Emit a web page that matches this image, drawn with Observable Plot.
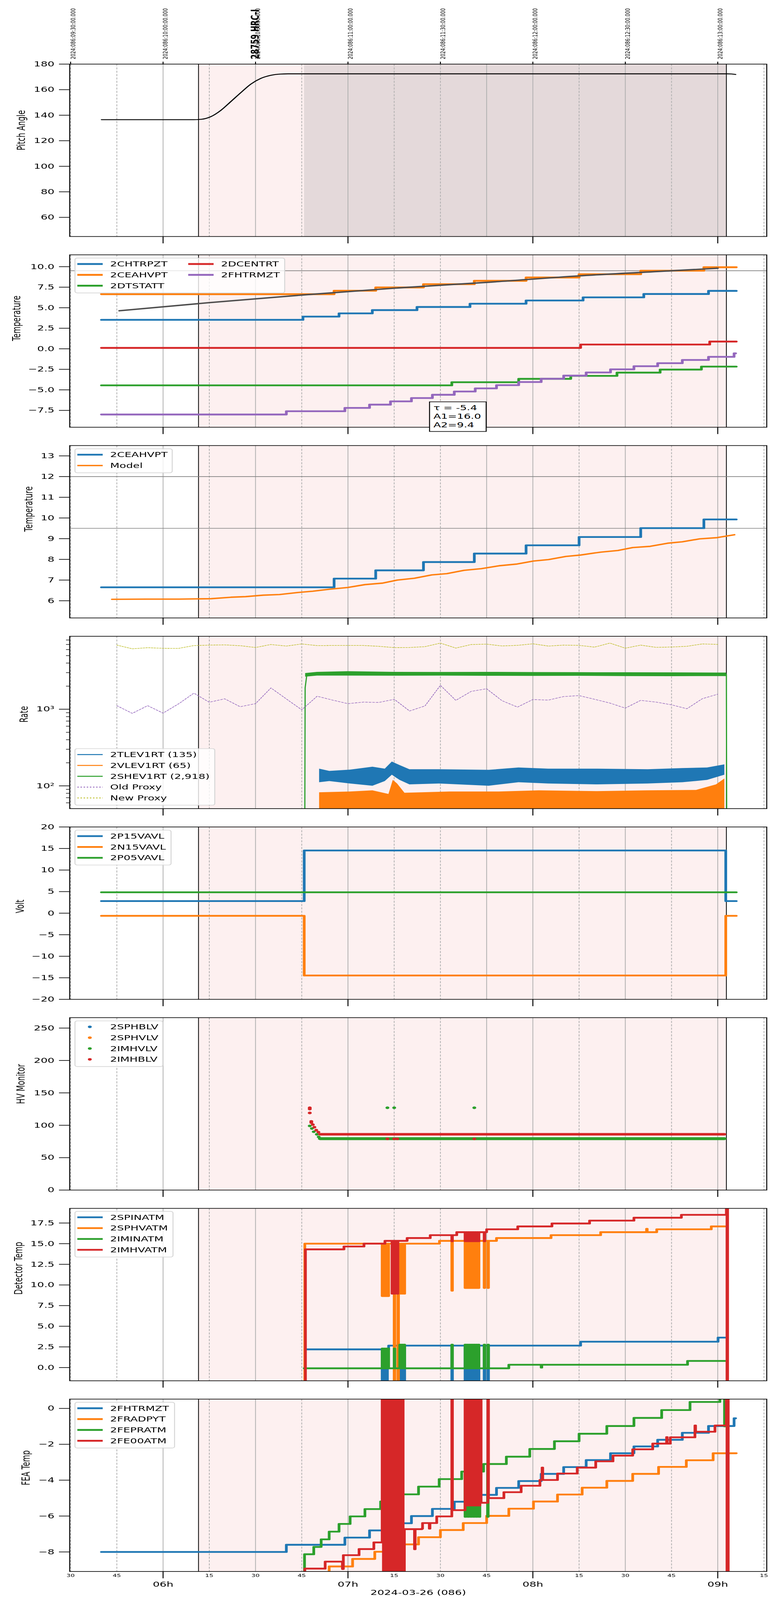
<!DOCTYPE html>
<html>
<head>
<meta charset="utf-8">
<script src="https://cdn.jsdelivr.net/npm/d3@7"></script>
<script src="https://cdn.jsdelivr.net/npm/@observablehq/plot@0.6"></script>
<style>
  html, body { margin: 0; padding: 0; background: #fff; overflow: hidden; }
  #frame { position: relative; width: 2000px; overflow: hidden; }
  #chart { position: absolute; left: 0; top: 0; width: 2000px; height: 6200px; font-family: "DejaVu Sans", sans-serif; transform-origin: 0 0; }
  #chart svg { position: absolute; left: 0; overflow: visible; }
</style>
</head>
<body>
<div id="frame"><div id="chart"></div></div>
<script>
// times are local clock on 2024-03-26, kept as UTC dates so the browser zone does not matter
const t = s => { const [h, m, sec] = s.split(":").map(Number); return new Date(Date.UTC(2024, 2, 26, h, m, sec || 0)); };
const series = (T, V) => T.map((s, i) => ({t: t(s), v: V[i]}));

// ---- shared time marks
const obsStart = "06:11:30", obsEnd = "09:02:48", slewEnd = "06:45:48";
const gridSolid = ["06:00", "06:30", "07:00", "07:45", "08:00", "08:30", "09:00"];
const gridDash = ["05:30", "05:45", "06:15", "06:45", "07:15", "07:30", "08:15", "08:45", "09:15"];
const hourTicks = ["06:00", "07:00", "08:00", "09:00"];
const quarterTicks = ["05:30", "05:45", "06:15", "06:30", "06:45", "07:15", "07:30", "07:45", "08:15", "08:30", "08:45", "09:15"];
const utcLabelTimes = ["05:30", "06:00", "06:30", "07:00", "07:30", "08:00", "08:30", "09:00"];
const utcLabels = ["2024:086:09:30:00.000", "2024:086:10:00:00.000", "2024:086:10:30:00.000", "2024:086:11:00:00.000",
  "2024:086:11:30:00.000", "2024:086:12:00:00.000", "2024:086:12:30:00.000", "2024:086:13:00:00.000"];
const title = "28759 HRC-I", titleTime = "06:28:36";
const xTitle = "2024-03-26 (086)";

// ---- panel 1: pitch
const pitchT = ["05:40", "06:10", "06:12:24", "06:15:36", "06:18:48", "06:22", "06:25:12", "06:28:30", "06:31:42", "06:34:54", "06:38:06", "06:40:30", "09:03", "09:04:30", "09:05:48"];
const pitchV = [136.5, 136.5, 136.8, 139.0, 143.9, 150.7, 157.6, 164.4, 168.8, 171.2, 172.2, 172.4, 172.4, 172.3, 171.9];

// ---- panel 2: temperatures
const names2 = ["2CHTRPZT", "2CEAHVPT", "2DTSTATT", "2DCENTRT", "2FHTRMZT"];
const chtrpztT = ["05:40", "06:45:24", "06:57:06", "07:07:54", "07:22:24", "07:39:36", "07:57:48", "08:16:18", "08:36", "08:57", "09:06"];
const chtrpztV = [3.53, 3.92, 4.31, 4.71, 5.09, 5.49, 5.88, 6.26, 6.67, 7.05, 7.05];
const ceahvptT = ["05:40", "06:55:30", "07:09", "07:24:30", "07:41", "07:57:48", "08:15", "08:35", "08:55:30", "09:06"];
const ceahvptV = [6.65, 7.07, 7.47, 7.87, 8.28, 8.68, 9.08, 9.51, 9.93, 9.93];
const dtstattT = ["05:40", "07:33:42", "07:55:24", "08:12:18", "08:27:18", "08:41:18", "08:54:42", "09:06"];
const dtstattV = [-4.45, -4.07, -3.66, -3.3, -2.9, -2.53, -2.17, -2.17];
const dcentrtT = ["05:40", "08:15:30", "08:57:24", "09:06"];
const dcentrtV = [0.11, 0.52, 0.88, 0.88];
const fhtrmztT = ["05:40", "06:40", "06:59", "07:07", "07:13:48", "07:20:36", "07:27:24", "07:34:30", "07:41:18", "07:48:12", "07:55:24",
  "08:02:42", "08:10", "08:17:18", "08:25:12", "08:32:48", "08:40:30", "08:48:30", "08:57", "09:05:18", "09:05:48"];
const fhtrmztV = [-8.0, -7.6, -7.2, -6.8, -6.4, -6.0, -5.6, -5.2, -4.82, -4.43, -4.05, -3.65, -3.27, -2.88, -2.5, -2.12, -1.75, -1.36, -0.98, -0.55, -0.55];
const fitT = ["05:45:48", "06:15", "06:45", "07:15", "07:45", "08:15", "08:45", "09:00"];
const fitV = [4.63, 5.62, 6.54, 7.38, 8.09, 8.88, 9.5, 9.81];
const limits2 = [9.5];
const fitText = ["τ = -5.4", "A1=16.0", "A2=9.4"];

// ---- panel 3: model
const modelT = ["05:43:24", "05:54:36", "06:05:06", "06:15:36", "06:22", "06:26:48", "06:32:30", "06:37:48", "06:43:48", "06:48:36", "06:54:12",
  "06:59:54", "07:05:30", "07:11:06", "07:16", "07:21:36", "07:27:12", "07:32:06", "07:37:42", "07:43:18", "07:49", "07:54:36",
  "08:00:12", "08:05:06", "08:10:42", "08:15:30", "08:22", "08:27:36", "08:32:24", "08:38:06", "08:43:42", "08:48:30", "08:54:06", "08:59:48", "09:05:24"];
const modelV = [6.07, 6.08, 6.08, 6.10, 6.17, 6.20, 6.27, 6.30, 6.40, 6.46, 6.56, 6.64, 6.78, 6.85, 7.00, 7.09, 7.25, 7.31, 7.47, 7.55, 7.69, 7.77,
  7.92, 7.99, 8.14, 8.21, 8.35, 8.43, 8.57, 8.63, 8.78, 8.85, 8.99, 9.05, 9.19];
const limits3 = [12, 9.5];

// ---- panel 4: rates
const names4 = ["2TLEV1RT (135)", "2VLEV1RT (65)", "2SHEV1RT (2,918)", "Old Proxy", "New Proxy"];
const tlevT = ["06:50:42", "06:54", "07:00:42", "07:08", "07:12", "07:14:18", "07:16:48", "07:20", "07:29:36", "07:45:42", "07:55:24", "08:05", "08:21", "08:37:18", "08:48:36", "08:56:36", "09:02:12"];
const tlevLo = [111, 115, 107, 100, 115, 139, 119, 104, 107, 100, 111, 107, 104, 107, 111, 119, 139];
const tlevHi = [167, 156, 162, 177, 167, 207, 186, 164, 164, 161, 173, 167, 167, 164, 170, 173, 190];
const vlevT = ["06:50:42", "07:00:42", "07:08", "07:13:12", "07:14:36", "07:16", "07:18:24", "07:33", "07:49", "08:02", "08:21", "08:37", "08:53", "08:59:30", "09:02:12"];
const vlevHi = [82, 84, 87, 78, 119, 107, 81, 84, 84, 87, 85, 87, 88, 104, 124];
const rateFloor = 40;
const shevT = ["06:46:10", "06:50", "07:00", "07:15", "07:30", "07:45", "08:00", "08:15", "08:30", "08:45", "09:00", "09:02:48"];
const shevLo = [2650, 2740, 2740, 2730, 2740, 2720, 2710, 2720, 2700, 2690, 2700, 2700];
const shevHi = [2950, 3060, 3120, 3060, 3050, 3060, 3040, 3030, 3020, 3010, 3000, 3000];
const shevEdgeT = ["06:46:00", "06:46:06", "06:46:40", "09:02:48", "09:02:54"];
const shevEdgeV = [40, 1900, 2850, 2850, 40];
const proxyT = ["05:45", "05:50", "05:55", "06:00", "06:05", "06:10", "06:15", "06:20", "06:25", "06:30", "06:35", "06:40", "06:45", "06:50",
  "06:55", "07:00", "07:05", "07:10", "07:15", "07:20", "07:25", "07:30", "07:35", "07:40", "07:45", "07:50", "07:55", "08:00",
  "08:05", "08:10", "08:15", "08:20", "08:25", "08:30", "08:35", "08:40", "08:45", "08:50", "08:55", "09:00"];
const oldProxyV = [1112, 883, 1112, 889, 1173, 1621, 1233, 1367, 1078, 1182, 1896, 1362, 982, 1478, 1315, 1182, 1238, 1225, 1348, 948,
  1105, 2050, 1305, 1710, 1849, 1291, 1066, 1338, 1315, 1463, 1505, 1348, 1203, 1033, 1305, 1238, 1141, 1014, 1372, 1570];
const newProxyV = [6862, 6146, 6346, 6235, 6212, 6765, 6862, 6911, 6741, 6392, 6985, 6670, 7111, 6765, 6789, 6789, 6789, 6622, 6368, 6392,
  6552, 7290, 6279, 6985, 7060, 6694, 6813, 7137, 6670, 6862, 6813, 6460, 7290, 6257, 6862, 6415, 6483, 6622, 7111, 7010];

// ---- panel 5: voltages
const names5 = ["2P15VAVL", "2N15VAVL", "2P05VAVL"];
const p15T = ["05:40", "06:45:48", "09:02:36", "09:06"], p15V = [2.81, 14.54, 2.81, 2.81];
const n15T = ["05:40", "06:45:48", "09:02:36", "09:06"], n15V = [-0.62, -14.46, -0.62, -0.62];
const p05T = ["05:40", "09:06"], p05V = [4.84, 4.84];

// ---- panel 6: HV monitor
const names6 = ["2SPHBLV", "2SPHVLV", "2IMHVLV", "2IMHBLV"];
const imhblvT = ["06:47:36", "06:47:36", "06:47:36", "06:48:06", "06:48:06", "06:48:36", "06:49:06", "06:49:42", "06:50:24", "07:12:48", "07:15:00", "07:16:00", "07:41:00"];
const imhblvV = [127, 125, 119, 106, 104, 101, 97, 92.5, 89.4, 79, 79, 79, 79];
const imhvlvT = ["06:47:36", "06:48:18", "06:48:54", "06:49:54", "06:50:30", "07:12:48", "07:15:00", "07:41:00"];
const imhvlvV = [99, 95, 90, 86, 82, 127, 127, 127];
const hvSteadyT = ["06:51:00", "09:02:12"];
const imhblvSteady = 86.1, imhvlvSteady = 79.3;

// ---- panel 7: detector temps
const names7 = ["2SPINATM", "2SPHVATM", "2IMINATM", "2IMHVATM"];
const burstT = ["07:38:00", "07:38:18", "07:38:36", "07:38:54", "07:39:12", "07:39:30", "07:39:48", "07:40:06",
  "07:40:24", "07:40:42", "07:41:00", "07:41:18", "07:41:36", "07:41:54", "07:42:12", "07:42:30"];
const spinatmT = ["06:46:12", "07:11:06", "07:11:24", "07:11:48", "07:12:06", "07:12:30", "07:12:48", "07:13:12", "07:16:48", "07:17:06",
  "07:17:30", "07:17:48", "07:18:06", "07:18:24", "07:33:42", "07:33:54", ...burstT, "07:44:12", "07:44:24", "07:45:24", "07:45:36",
  "08:15:30", "09:00:06", "09:02:24"];
const spinatmV = [2.2, -3, 2.2, -3, 2.2, -3, 2.2, 2.66, -3, 2.66, -3, 2.66, -3, 2.66, -3, 2.66,
  -3, 2.66, -3, 2.66, -3, 2.66, -3, 2.66, -3, 2.66, -3, 2.66, -3, 2.66, -3, 2.66,
  -3, 2.66, -3, 2.66, 3.13, 3.63, 3.63];
const sphvatmT = ["06:45:48", "06:46:00", "07:11:06", "07:11:24", "07:11:42", "07:12:00", "07:12:18", "07:12:36", "07:12:54", "07:13:12",
  "07:15:00", "07:15:12", "07:16:12", "07:16:24", "07:16:48", "07:17:06", "07:17:30", "07:17:48", "07:18:06", "07:18:24",
  "07:29:42", "07:33:42", "07:33:54", ...burstT, "07:44:12", "07:44:24", "07:45:24", "07:45:36",
  "07:48:12", "08:05:54", "08:22:00", "08:36:54", "08:37:06", "08:40:12", "08:57:54", "09:02:24"];
const sphvatmV = [-3, 15.0, 8.66, 15.0, 8.66, 15.0, 8.66, 15.0, 8.66, 15.0,
  -3, 15.0, -3, 15.0, 8.95, 15.0, 8.95, 15.0, 8.95, 15.0,
  15.34, 9.31, 15.34,
  9.64, 15.34, 9.64, 15.34, 9.64, 15.34, 9.64, 15.34, 9.64, 15.34, 9.64, 15.34, 9.64, 15.34, 9.64, 15.34,
  9.64, 15.34, 9.64, 15.34,
  15.68, 16.03, 16.39, 16.8, 16.39, 16.74, 17.09, 17.09];
const iminatmT = ["06:45:48", "07:11:06", "07:11:24", "07:11:42", "07:12:00", "07:12:18", "07:12:36", "07:12:54", "07:13:12",
  "07:15:00", "07:15:12", "07:16:48", "07:17:06", "07:17:30", "07:17:48", "07:18:06", "07:18:24", "07:33:42", "07:33:54",
  ...burstT, "07:44:12", "07:44:24", "07:45:24", "07:45:36", "07:52:12", "08:02:42", "08:02:54", "08:50:12", "09:02:24"];
const iminatmV = [-0.09, 2.3, -0.09, 2.3, -0.09, 2.3, -0.09, 2.3, -0.09,
  2.3, -0.09, 2.77, -0.09, 2.77, -0.09, 2.77, -0.09, 2.77, -0.09,
  2.77, -0.09, 2.77, -0.09, 2.77, -0.09, 2.77, -0.09, 2.77, -0.09, 2.77, -0.09, 2.77, -0.09, 2.77, -0.09,
  2.77, -0.09, 2.77, -0.09, 0.34, 0.0, 0.34, 0.8, 0.8];
const imhvatmT = ["06:46:06", "06:46:12", "06:58:42", "07:05:12", "07:12:00", "07:14:18", "07:14:30", "07:15:06", "07:15:18", "07:16:00", "07:16:12",
  "07:19:12", "07:26:42", "07:33:42", "07:33:54", "07:35:18", ...burstT, "07:44:12", "07:44:24", "07:45:00", "07:55:06", "08:06:12",
  "08:18:24", "08:32:48", "08:48:12", "09:02:48", "09:03:00", "09:03:06", "09:03:12"];
const imhvatmV = [-3, 14.31, 14.66, 15.0, 15.34, 8.95, 15.34, 8.95, 15.34, 8.95, 15.34,
  15.68, 16.03, 15.3, 16.03, 16.39,
  15.3, 16.39, 15.3, 16.39, 15.3, 16.39, 15.3, 16.39, 15.3, 16.39, 15.3, 16.39, 15.3, 16.39, 15.3, 16.39,
  15.3, 16.39, 16.74, 17.09, 17.44, 17.79, 18.14, 18.49, 40, -5, 40, -5];

// ---- panel 8: FEA temps (first series is 2FHTRMZT from panel 2)
const names8 = ["2FHTRMZT", "2FRADPYT", "2FEPRATM", "2FE00ATM"];
const fradpytT = ["06:53:30", "06:53:54", "07:01:30", "07:08:42", "07:15:12", "07:22:54", "07:30:00", "07:37:24", "07:45:00", "07:52:12",
  "08:00:12", "08:08:00", "08:16:00", "08:24:00", "08:32:24", "08:40:48", "08:49:48", "08:58:30", "09:06"];
const fradpytV = [-9.5, -8.81, -8.39, -7.99, -7.58, -7.18, -6.78, -6.39, -5.99, -5.59, -5.19, -4.8, -4.42, -4.04, -3.65, -3.26, -2.89, -2.5, -2.5];
const fepratmT = ["06:45:48", "06:45:54", "06:48:54", "06:51:18", "06:53:54", "06:57:06", "07:00:42", "07:05:30", "07:10:36", "07:16:48",
  "07:22:54", "07:29:36", "07:36:54", "07:38:00", "07:38:18", "07:38:54", "07:39:12", "07:39:48", "07:40:06", "07:40:42", "07:41:00",
  "07:41:36", "07:41:54", "07:42:30", "07:42:48", "07:44:00", "07:45:18", "07:45:30", "07:51:24", "07:59:00", "08:07:00", "08:15:00",
  "08:24:00", "08:32:48", "08:41:48", "08:51:00", "09:00:42", "09:02:12", "09:02:24"];
const fepratmV = [-9.5, -8.13, -7.72, -7.3, -6.87, -6.44, -6.02, -5.61, -5.19, -4.79, -4.36, -3.94, -3.52, -6.04, -3.52, -6.04, -3.52,
  -6.04, -3.52, -6.04, -3.52, -6.04, -3.52, -6.04, -3.52, -3.1, -6.04, -3.1, -2.69, -2.26, -1.83, -1.41, -0.98, -0.53, -0.09, 0.36, 0.7, -1.0, -1.0];
const fe00atmT = ["06:45:48", "06:46:00", "06:52:36", "06:58:12", "06:58:30", "07:03:36", "07:08:24",
  "07:11:06", "07:11:30", "07:11:54", "07:12:18", "07:12:42", "07:13:06", "07:13:30", "07:13:54", "07:14:18", "07:14:42", "07:15:06",
  "07:15:30", "07:15:54", "07:16:18", "07:16:42", "07:17:06", "07:17:30", "07:17:54",
  "07:18:18", "07:21:36", "07:21:48", "07:24:00", "07:24:12", "07:26:24", "07:26:36", "07:28:48", "07:33:42", "07:33:54",
  "07:38:00", "07:38:24", "07:38:48", "07:39:12", "07:39:36", "07:40:00", "07:40:24", "07:40:48", "07:41:12", "07:41:36", "07:42:00",
  "07:42:24", "07:42:48", "07:43:12",
  "07:45:24", "07:45:36", "07:50:36", "07:56:12", "08:02:18", "08:03:00", "08:03:12", "08:08:00", "08:14:24", "08:20:24", "08:26:00",
  "08:32:24", "08:38:54", "08:43:24", "08:43:36", "08:44:36", "08:52:36", "08:52:48", "08:59:06", "09:02:48", "09:03:00", "09:03:12", "09:03:24"];
const fe00atmV = [-9.5, -8.93, -8.54, -8.95, -8.18, -7.84, -7.47,
  2, -12, 2, -12, 2, -12, 2, -12, 2, -12, 2, -12, 2, -12, 2, -12, 2, -12,
  -6.73, -7.85, -6.73, -6.7, -6.39, -6.7, -6.39, -6.02, 2, -5.67,
  2, -5.41, 2, -5.41, 2, -5.41, 2, -5.41, 2, -5.41, 2, -5.41, 2, -5.26,
  2, -5.0, -4.67, -4.31, -3.99, -3.3, -3.99, -3.63, -3.3, -2.95, -2.63, -2.28, -1.96, -1.6, -1.96, -1.61, -0.95, -1.3, -0.95, 3, -12, 3, -12];

// ---- layout
const W = 2000, H = 6200, ML = 178, MR = 37, PH = 668, FS = 27.8;
const panelTops = [248, 987, 1726, 2465, 3204, 3943, 4682, 5421];
const xDomain = [t("05:29:42"), t("09:15:54")];
const C = {blue: "#1f77b4", orange: "#ff7f0e", green: "#2ca02c", red: "#d62728", purple: "#9467bd", olive: "#bcbd22"};
const chart = document.getElementById("chart");
const shade = [{a: t(obsStart), b: t(obsEnd)}];

// the window is shorter than the 6200 px figure: squeeze the whole figure vertically so all of it shows
const fit = Math.min(1, window.innerHeight / H);
chart.style.transform = `scale(1, ${fit})`;
document.getElementById("frame").style.height = (H * fit) + "px";

const step = (T, V, stroke, w = 7) => Plot.line(series(T, V), {x: "t", y: "v", stroke, strokeWidth: w, curve: "step-after", clip: true});

function addLegend(svg, mt, L) {
  const g = d3.select(svg).append("g")
    .attr("transform", `translate(${L.x},${mt + L.y})`)
    .attr("font-family", "DejaVu Sans").attr("font-size", FS).attr("text-anchor", "start");
  const rows = d3.max(L.items, d => d.row) + 1;
  g.append("rect").attr("width", L.w).attr("height", 9 + 42 * rows).attr("rx", 6)
    .attr("fill", "white").attr("fill-opacity", 0.8).attr("stroke", "#d5d5d5").attr("stroke-width", 2.5);
  L.items.forEach(d => {
    const ox = d.col ? 284 : 0, cy = 23 + 42 * d.row;
    if (d.dot) {
      g.append("circle").attr("cx", 38 + ox).attr("cy", cy).attr("r", 5).attr("fill", d.color);
    } else {
      g.append("line").attr("x1", 6 + ox).attr("x2", 71 + ox).attr("y1", cy).attr("y2", cy)
        .attr("stroke", d.color).attr("stroke-width", d.w || 7).attr("stroke-dasharray", d.dash || null);
    }
    g.append("text").attr("x", 90 + ox).attr("y", cy).attr("dy", "0.35em").attr("text-anchor", "start").text(d.label);
  });
}

function makePanel(k, cfg) {
  const mt = cfg.mt ?? 30, mb = cfg.mb ?? 41;
  const marks = [
    Plot.rect(shade, {x1: "a", x2: "b", fill: "#fdf0f0"}),
    ...(cfg.background || []),
    Plot.ruleX(gridSolid.map(t), {stroke: "#b0b0b0", strokeWidth: 2}),
    Plot.ruleX(gridDash.map(t), {stroke: "#b0b0b0", strokeWidth: 2, strokeDasharray: "8,5"}),
    Plot.ruleX([obsStart, obsEnd].map(t), {stroke: "black", strokeWidth: 2}),
    ...cfg.marks,
    Plot.axisY({ticks: cfg.yTicks, tickFormat: cfg.yFormat, tickSize: 27, tickPadding: 12, fontSize: FS, strokeWidth: 2.5, label: null}),
    ...(cfg.xAxes || [Plot.axisX({ticks: hourTicks.map(t), tickSize: 27, tickFormat: () => "", strokeWidth: 2.5, label: null})]),
    Plot.text([cfg.ylabel], {text: d => d, frameAnchor: "left", dx: cfg.labelX - ML, rotate: -90, fontSize: FS}),
    Plot.frame({stroke: "black", strokeWidth: 2.5})
  ];
  const svg = Plot.plot({
    width: W, height: PH + mt + mb,
    marginLeft: ML, marginRight: MR, marginTop: mt, marginBottom: mb,
    style: {background: "transparent", fontFamily: "DejaVu Sans", overflow: "visible"},
    x: {type: "utc", domain: xDomain},
    y: cfg.y,
    marks
  });
  svg.style.top = (panelTops[k] - mt) + "px";
  chart.appendChild(svg);
  if (cfg.legend) addLegend(svg, mt, cfg.legend);
  if (cfg.after) cfg.after(svg, mt);
  return svg;
}

const f1 = d3.format(".1f"), fd = d3.format("d");

// panel 1
makePanel(0, {
  mt: 248,
  y: {domain: [45, 180]},
  yTicks: [60, 80, 100, 120, 140, 160, 180], yFormat: fd,
  ylabel: "Pitch Angle", labelX: 55,
  background: [Plot.rect([{a: t(slewEnd), b: t(obsEnd)}], {x1: "a", x2: "b", fill: "#e4d9da"})],
  marks: [
    Plot.line(series(pitchT, pitchV), {x: "t", y: "v", stroke: "black", strokeWidth: 3.5, curve: "monotone-x"}),
    Plot.axisX({anchor: "top", ticks: utcLabelTimes.map(t), tickSize: 10, tickFormat: () => "", strokeWidth: 2.5, label: null}),
    Plot.text(utcLabels, {x: (d, i) => t(utcLabelTimes[i]), text: d => d, frameAnchor: "top", dy: -19, rotate: -90, textAnchor: "start", fontSize: 16.7}),
    Plot.text([title], {x: () => t(titleTime), text: d => d, frameAnchor: "top", dy: -19, rotate: -90, textAnchor: "start", fontSize: FS, fontWeight: "bold"})
  ]
});

// panel 2
makePanel(1, {
  y: {domain: [-9.55, 11.44]},
  yTicks: [-7.5, -5, -2.5, 0, 2.5, 5, 7.5, 10], yFormat: f1,
  ylabel: "Temperature", labelX: 43,
  marks: [
    Plot.ruleY(limits2, {stroke: "#808080", strokeWidth: 2.5}),
    step(chtrpztT, chtrpztV, C.blue),
    step(ceahvptT, ceahvptV, C.orange),
    step(dtstattT, dtstattV, C.green),
    step(dcentrtT, dcentrtV, C.red),
    step(fhtrmztT, fhtrmztV, C.purple),
    Plot.line(series(fitT, fitV), {x: "t", y: "v", stroke: "#4d4d4d", strokeWidth: 5.5, curve: "monotone-x"})
  ],
  legend: {x: 192, y: 13, w: 537, items: [
    {label: names2[0], color: C.blue, row: 0, col: 0},
    {label: names2[1], color: C.orange, row: 1, col: 0},
    {label: names2[2], color: C.green, row: 2, col: 0},
    {label: names2[3], color: C.red, row: 0, col: 1},
    {label: names2[4], color: C.purple, row: 1, col: 1}
  ]},
  after: (svg, mt) => {
    const g = d3.select(svg).append("g").attr("transform", `translate(1100,${mt + 570})`)
      .attr("font-family", "DejaVu Sans").attr("font-size", FS).attr("text-anchor", "start");
    g.append("rect").attr("width", 145).attr("height", 115).attr("fill", "white").attr("stroke", "black").attr("stroke-width", 2.5);
    fitText.forEach((s, i) => g.append("text").attr("x", 10).attr("y", 23 + 33 * i).attr("dy", "0.35em").attr("text-anchor", "start").text(s));
  }
});

// panel 3
makePanel(2, {
  y: {domain: [5.17, 13.5]},
  yTicks: [6, 7, 8, 9, 10, 11, 12, 13], yFormat: fd,
  ylabel: "Temperature", labelX: 74,
  marks: [
    Plot.ruleY(limits3, {stroke: "#808080", strokeWidth: 2.5}),
    step(ceahvptT, ceahvptV, C.blue),
    Plot.line(series(modelT, modelV), {x: "t", y: "v", stroke: C.orange, strokeWidth: 5.5})
  ],
  legend: {x: 192, y: 13, w: 249, items: [
    {label: names2[1], color: C.blue, row: 0},
    {label: "Model", color: C.orange, row: 1, w: 5.5}
  ]}
});

// panel 4
const tlev = tlevT.map((s, i) => ({t: t(s), lo: tlevLo[i], hi: tlevHi[i]}));
const vlev = vlevT.map((s, i) => ({t: t(s), lo: rateFloor, hi: vlevHi[i]}));
const shev = shevT.map((s, i) => ({t: t(s), lo: shevLo[i], hi: shevHi[i]}));
makePanel(3, {
  y: {type: "log", domain: [50.4, 8954]},
  yTicks: [100, 1000], yFormat: d => d === 100 ? "10²" : "10³",
  ylabel: "Rate", labelX: 62,
  marks: [
    Plot.areaY(tlev, {x: "t", y1: "lo", y2: "hi", fill: C.blue, clip: true}),
    Plot.areaY(vlev, {x: "t", y1: "lo", y2: "hi", fill: C.orange, clip: true}),
    Plot.areaY(shev, {x: "t", y1: "lo", y2: "hi", fill: C.green, clip: true}),
    Plot.line(series(shevEdgeT, shevEdgeV), {x: "t", y: "v", stroke: C.green, strokeWidth: 3, clip: true}),
    Plot.line(series(proxyT, oldProxyV), {x: "t", y: "v", stroke: C.purple, strokeWidth: 2, strokeDasharray: "5,4"}),
    Plot.line(series(proxyT, newProxyV), {x: "t", y: "v", stroke: C.olive, strokeWidth: 2, strokeDasharray: "4,3"}),
    Plot.axisY({ticks: [60, 70, 80, 90, 200, 300, 400, 500, 600, 700, 800, 900, 2000, 3000, 4000, 5000, 6000, 7000, 8000],
      tickSize: 9, tickFormat: () => "", strokeWidth: 2, label: null})
  ],
  legend: {x: 192, y: 436, w: 358, items: [
    {label: names4[0], color: C.blue, row: 0, w: 4},
    {label: names4[1], color: C.orange, row: 1, w: 4},
    {label: names4[2], color: C.green, row: 2, w: 4},
    {label: names4[3], color: C.purple, row: 3, w: 3, dash: "4,4"},
    {label: names4[4], color: C.olive, row: 4, w: 3, dash: "4,4"}
  ]}
});

// panel 5
makePanel(4, {
  y: {domain: [-20, 20]},
  yTicks: [-20, -15, -10, -5, 0, 5, 10, 15, 20], yFormat: fd,
  ylabel: "Volt", labelX: 52,
  marks: [
    step(p15T, p15V, C.blue),
    step(n15T, n15V, C.orange),
    step(p05T, p05V, C.green)
  ],
  legend: {x: 192, y: 13, w: 246, items: [
    {label: names5[0], color: C.blue, row: 0},
    {label: names5[1], color: C.orange, row: 1},
    {label: names5[2], color: C.green, row: 2}
  ]}
});

// panel 6
makePanel(5, {
  y: {domain: [0, 266]},
  yTicks: [0, 50, 100, 150, 200, 250], yFormat: fd,
  ylabel: "HV Monitor", labelX: 54,
  marks: [
    Plot.ruleY([{a: t(hvSteadyT[0]), b: t(hvSteadyT[1]), v: imhvlvSteady}], {x1: "a", x2: "b", y: "v", stroke: C.green, strokeWidth: 11, strokeLinecap: "round"}),
    Plot.dot(series(imhvlvT, imhvlvV), {x: "t", y: "v", r: 5, fill: C.green}),
    Plot.ruleY([{a: t(hvSteadyT[0]), b: t(hvSteadyT[1]), v: imhblvSteady}], {x1: "a", x2: "b", y: "v", stroke: C.red, strokeWidth: 10, strokeLinecap: "round"}),
    Plot.dot(series(imhblvT, imhblvV), {x: "t", y: "v", r: 5, fill: C.red})
  ],
  legend: {x: 192, y: 13, w: 225, items: [
    {label: names6[0], color: C.blue, row: 0, dot: true},
    {label: names6[1], color: C.orange, row: 1, dot: true},
    {label: names6[2], color: C.green, row: 2, dot: true},
    {label: names6[3], color: C.red, row: 3, dot: true}
  ]}
});

// panel 7
makePanel(6, {
  y: {domain: [-1.6, 19.27]},
  yTicks: [0, 2.5, 5, 7.5, 10, 12.5, 15, 17.5], yFormat: f1,
  ylabel: "Detector Temp", labelX: 48,
  marks: [
    step(spinatmT, spinatmV, C.blue),
    step(sphvatmT, sphvatmV, C.orange),
    step(iminatmT, iminatmV, C.green),
    step(imhvatmT, imhvatmV, C.red)
  ],
  legend: {x: 192, y: 12, w: 251, items: [
    {label: names7[0], color: C.blue, row: 0},
    {label: names7[1], color: C.orange, row: 1},
    {label: names7[2], color: C.green, row: 2},
    {label: names7[3], color: C.red, row: 3}
  ]}
});

// panel 8 with the shared time axis
makePanel(7, {
  mb: 111,
  y: {domain: [-9.09, 0.52]},
  yTicks: [-8, -6, -4, -2, 0], yFormat: fd,
  ylabel: "FEA Temp", labelX: 67,
  marks: [
    step(fhtrmztT, fhtrmztV, C.blue),
    step(fradpytT, fradpytV, C.orange),
    step(fepratmT, fepratmV, C.green),
    step(fe00atmT, fe00atmV, C.red),
    Plot.text([xTitle], {text: d => d, frameAnchor: "bottom", dy: 91, fontSize: FS})
  ],
  xAxes: [
    Plot.axisX({ticks: hourTicks.map(t), tickSize: 27, tickPadding: 12, tickFormat: d3.utcFormat("%Hh"), fontSize: FS, strokeWidth: 2.5, label: null}),
    Plot.axisX({ticks: quarterTicks.map(t), tickSize: 0, tickPadding: 10, tickFormat: d3.utcFormat("%M"), fontSize: 16.7, label: null})
  ],
  legend: {x: 192, y: 13, w: 255, items: [
    {label: names8[0], color: C.blue, row: 0},
    {label: names8[1], color: C.orange, row: 1},
    {label: names8[2], color: C.green, row: 2},
    {label: names8[3], color: C.red, row: 3}
  ]}
});
</script>
</body>
</html>
